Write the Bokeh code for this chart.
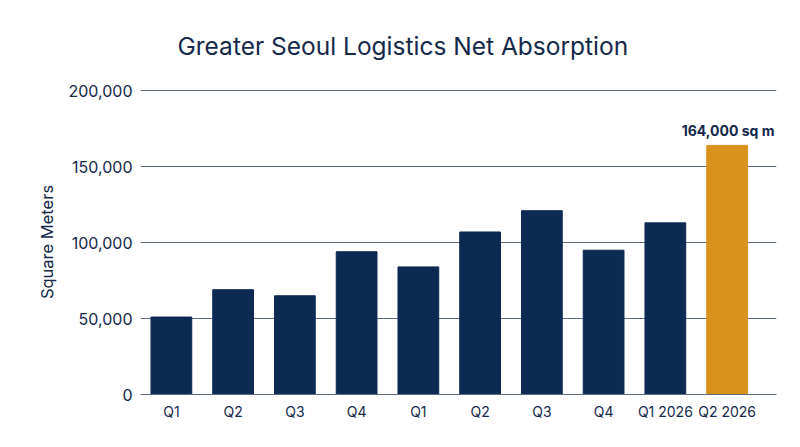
from bokeh.plotting import figure
from bokeh.models import ColumnDataSource, FixedTicker, NumeralTickFormatter, Range1d, LabelSet
from bokeh.core.properties import value
from bokeh.embed import file_html
from bokeh.resources import INLINE

quarters = ["Q1", "Q2", "Q3", "Q4", "Q1", "Q2", "Q3", "Q4", "Q1 2026", "Q2 2026"]
absorption = [51000, 69000, 65000, 94000, 84000, 107000, 121000, 95000, 113000, 164000]
bar_colors = ["#0c2a52"] * 9 + ["#d9921c"]
highlight_text = ["", "", "", "", "", "", "", "", "", "164,000 sq m"]
y_ticks = [0, 50000, 100000, 150000, 200000]

NAVY = "#14284b"
FONT = "Inter"

x_pos = list(range(len(quarters)))
src = ColumnDataSource(dict(x=x_pos, y=absorption, color=bar_colors, lab=highlight_text))

p = figure(width=800, height=447, output_backend="svg", toolbar_location=None,
           x_range=Range1d(-0.5, 9.8), y_range=Range1d(0, 200800),
           min_border_left=140, min_border_right=24, min_border_top=88, min_border_bottom=53)

p.vbar(x="x", top="y", width=0.66, color="color", source=src)

labels = LabelSet(x="x", y="y", text="lab", source=src, text_align="center", text_baseline="bottom",
                  y_offset=6, x_offset=1, text_font=value(FONT), text_font_size=value("14px"),
                  text_font_style="bold", text_color=NAVY, level="overlay")
p.add_layout(labels)

p.title.text = "Greater Seoul Logistics Net Absorption"
p.title.align = "left"
p.title.offset = 37
p.title.text_font = FONT
p.title.text_font_size = "24.5px"
p.title.text_font_style = "normal"
p.title.text_color = NAVY
p.title.standoff = 57

p.outline_line_color = None
p.xgrid.grid_line_color = None
p.ygrid.grid_line_color = "#5c6b80"
p.ygrid.grid_line_width = 1.2
p.ygrid.ticker = FixedTicker(ticks=y_ticks)

p.yaxis.ticker = FixedTicker(ticks=y_ticks)
p.yaxis.formatter = NumeralTickFormatter(format="0,0")
p.yaxis.axis_line_color = None
p.yaxis.major_tick_line_color = None
p.yaxis.major_tick_out = 0
p.yaxis.major_tick_in = 0
p.yaxis.minor_tick_line_color = None
p.yaxis.major_label_text_font = FONT
p.yaxis.major_label_text_font_size = "16px"
p.yaxis.major_label_text_color = NAVY
p.yaxis.major_label_standoff = 8
p.yaxis.axis_label = "Square Meters"
p.yaxis.axis_label_text_font = FONT
p.yaxis.axis_label_text_font_size = "16.5px"
p.yaxis.axis_label_text_font_style = "normal"
p.yaxis.axis_label_text_color = NAVY
p.yaxis.axis_label_standoff = 8

p.xaxis.ticker = FixedTicker(ticks=x_pos)
p.xaxis.major_label_overrides = {i: q for i, q in enumerate(quarters)}
p.xaxis.axis_line_color = "#5c6b80"
p.xaxis.axis_line_width = 1.2
p.xaxis.major_tick_line_color = None
p.xaxis.major_tick_out = 0
p.xaxis.major_tick_in = 0
p.xaxis.minor_tick_line_color = None
p.xaxis.major_label_text_font = FONT
p.xaxis.major_label_text_font_size = "14px"
p.xaxis.major_label_text_color = NAVY
p.xaxis.major_label_standoff = 8

open("out.html", "w").write(file_html(p, INLINE))
